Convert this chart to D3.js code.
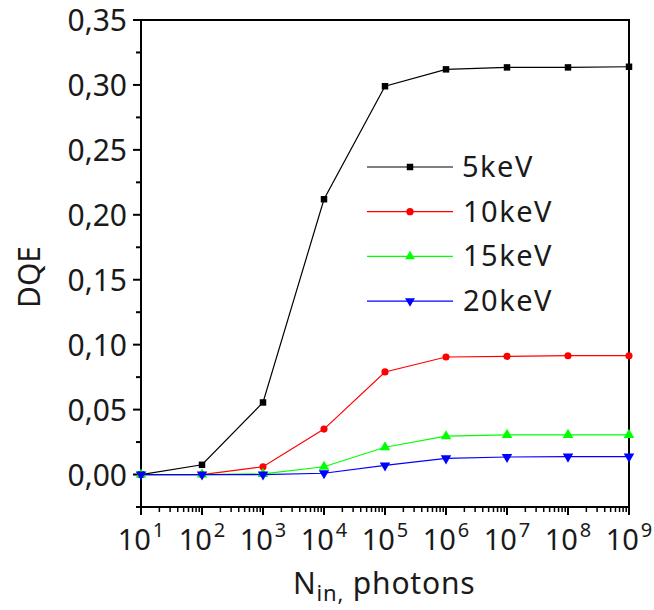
<!DOCTYPE html>
<html>
<head>
<meta charset="utf-8">
<script src="https://cdn.jsdelivr.net/npm/d3@7"></script>
<style>
  body { margin: 0; background: #fff; }
  svg text { font-family: "Noto Sans", "DejaVu Sans", sans-serif; fill: #1a1a1a; }
</style>
</head>
<body>
<svg class="canvas" width="654" height="610"></svg>
<script>
// data
var photons = [1e1, 1e2, 1e3, 1e4, 1e5, 1e6, 1e7, 1e8, 1e9];
var dqe5 = [0.000, 0.0075, 0.0555, 0.212, 0.299, 0.312, 0.3135, 0.3135, 0.314];
var dqe10 = [0.000, 0.000, 0.006, 0.035, 0.079, 0.0905, 0.091, 0.0915, 0.0915];
var dqe15 = [0.000, 0.000, 0.0005, 0.006, 0.021, 0.0295, 0.0305, 0.0305, 0.0305];
var dqe20 = [0.000, 0.000, 0.000, 0.001, 0.007, 0.0125, 0.0135, 0.0138, 0.0138];
var seriesNames = ['5keV', '10keV', '15keV', '20keV'];
var seriesColors = ['#000000', '#ff0000', '#00ff00', '#0000ff'];
var seriesSymbols = [d3.symbolSquare, d3.symbolCircle, d3.symbolTriangle, 'down'];
var yTicks = [0.00, 0.05, 0.10, 0.15, 0.20, 0.25, 0.30, 0.35];

var series = [dqe5, dqe10, dqe15, dqe20].map(function(vals, i){
    return {name: seriesNames[i], color: seriesColors[i], symbol: seriesSymbols[i],
        points: vals.map(function(v, j){ return {x: photons[j], y: v}; })};
});

var padding = {top: 20, right: 25, bottom: 103, left: 141};
var width = 654 - padding.left - padding.right;
var height = 610 - padding.top - padding.bottom;

var svg = d3.select('.canvas');
var chart = svg.append('g')
    .attr('transform', 'translate(' + padding.left + ',' + padding.top + ')');

var x = d3.scaleLog().domain([1e1, 1e9]).range([0, width]);
var y = d3.scaleLinear().domain([-0.025, 0.35]).range([height, 0]);

// frame
chart.append('rect')
    .attr('x', 0).attr('y', 0)
    .attr('width', width).attr('height', height)
    .attr('fill', 'none').attr('stroke', '#000').attr('stroke-width', 2);

// y axis ticks
var yMinor = d3.range(-0.025, 0.351, 0.025).filter(function(v){
    return Math.abs(Math.round(v / 0.05) * 0.05 - v) > 1e-6;
});
chart.selectAll('.ymajor').data(yTicks).enter().append('line')
    .attr('x1', -8).attr('x2', 0)
    .attr('y1', function(d){ return y(d); }).attr('y2', function(d){ return y(d); })
    .attr('stroke', '#000').attr('stroke-width', 2);
chart.selectAll('.yminor').data(yMinor).enter().append('line')
    .attr('x1', -5).attr('x2', 0)
    .attr('y1', function(d){ return y(d); }).attr('y2', function(d){ return y(d); })
    .attr('stroke', '#000').attr('stroke-width', 2);
chart.selectAll('.ylabel').data(yTicks).enter().append('text')
    .attr('x', -14)
    .attr('y', function(d){ return y(d) + 11; })
    .attr('text-anchor', 'end')
    .attr('font-size', 30)
    .text(function(d){ return d3.format('.2f')(d).replace('.', ','); });

// x axis ticks (log)
var xMinor = [];
photons.slice(0, -1).forEach(function(p){
    for (var k = 2; k < 10; k++) xMinor.push(p * k);
});
chart.selectAll('.xmajor').data(photons).enter().append('line')
    .attr('x1', function(d){ return x(d); }).attr('x2', function(d){ return x(d); })
    .attr('y1', height).attr('y2', height + 8)
    .attr('stroke', '#000').attr('stroke-width', 2);
chart.selectAll('.xminor').data(xMinor).enter().append('line')
    .attr('x1', function(d){ return x(d); }).attr('x2', function(d){ return x(d); })
    .attr('y1', height).attr('y2', height + 5)
    .attr('stroke', '#000').attr('stroke-width', 1.5);
var xl = chart.selectAll('.xlabel').data(photons).enter().append('text')
    .attr('x', function(d){ return x(d); })
    .attr('y', height + 43)
    .attr('text-anchor', 'middle')
    .attr('font-size', 29);
xl.append('tspan').text('10');
xl.append('tspan')
    .attr('dx', 2).attr('dy', -13)
    .attr('font-size', 20)
    .text(function(d){ return Math.round(Math.log10(d)); });

// lines and markers
var line = d3.line()
    .x(function(d){ return x(d.x); })
    .y(function(d){ return y(d.y); });

function marker(sel, s){
    if (s.symbol === 'down') {
        sel.attr('d', d3.symbol().type(d3.symbolTriangle).size(48))
            .attr('transform', function(d){ return 'translate(' + x(d.x) + ',' + y(d.y) + ') rotate(180)'; });
    } else {
        var size = s.symbol === d3.symbolSquare ? 42 : (s.symbol === d3.symbolCircle ? 40 : 48);
        sel.attr('d', d3.symbol().type(s.symbol).size(size))
            .attr('transform', function(d){ return 'translate(' + x(d.x) + ',' + y(d.y) + ')'; });
    }
}

series.forEach(function(s){
    var g = chart.append('g');
    g.append('path')
        .datum(s.points)
        .attr('d', line)
        .attr('fill', 'none')
        .attr('stroke', s.color)
        .attr('stroke-width', 1.2);
    g.selectAll('path.pt').data(s.points).enter().append('path')
        .attr('class', 'pt')
        .attr('fill', s.color)
        .call(marker, s);
});

// legend
var legend = svg.append('g');
series.forEach(function(s, i){
    var ly = 167 + i * 44.7;
    var lg = legend.append('g');
    lg.append('line')
        .attr('x1', 367).attr('x2', 453)
        .attr('y1', ly).attr('y2', ly)
        .attr('stroke', s.color).attr('stroke-width', 1.2);
    lg.append('path')
        .datum({})
        .attr('fill', s.color)
        .attr('d', d3.symbol().type(s.symbol === 'down' ? d3.symbolTriangle : s.symbol).size(42))
        .attr('transform', 'translate(410,' + ly + ')' + (s.symbol === 'down' ? ' rotate(180)' : ''));
    lg.append('text')
        .attr('x', i === 0 ? 462 : 463)
        .attr('y', ly + 10)
        .attr('font-size', 29)
        .attr('letter-spacing', 1.5)
        .text(s.name);
});

// axis titles
svg.append('text')
    .attr('transform', 'translate(40,277) rotate(-90)')
    .attr('text-anchor', 'middle')
    .attr('font-size', 30)
    .text('DQE');

var xt = svg.append('text')
    .attr('x', 293).attr('y', 594)
    .attr('font-size', 30)
    .attr('letter-spacing', 0.8);
xt.append('tspan').text('N');
xt.append('tspan').attr('font-size', 22).attr('dy', 7).text('in,');
xt.append('tspan').attr('dy', -7).text(' photons');
</script>
</body>
</html>
